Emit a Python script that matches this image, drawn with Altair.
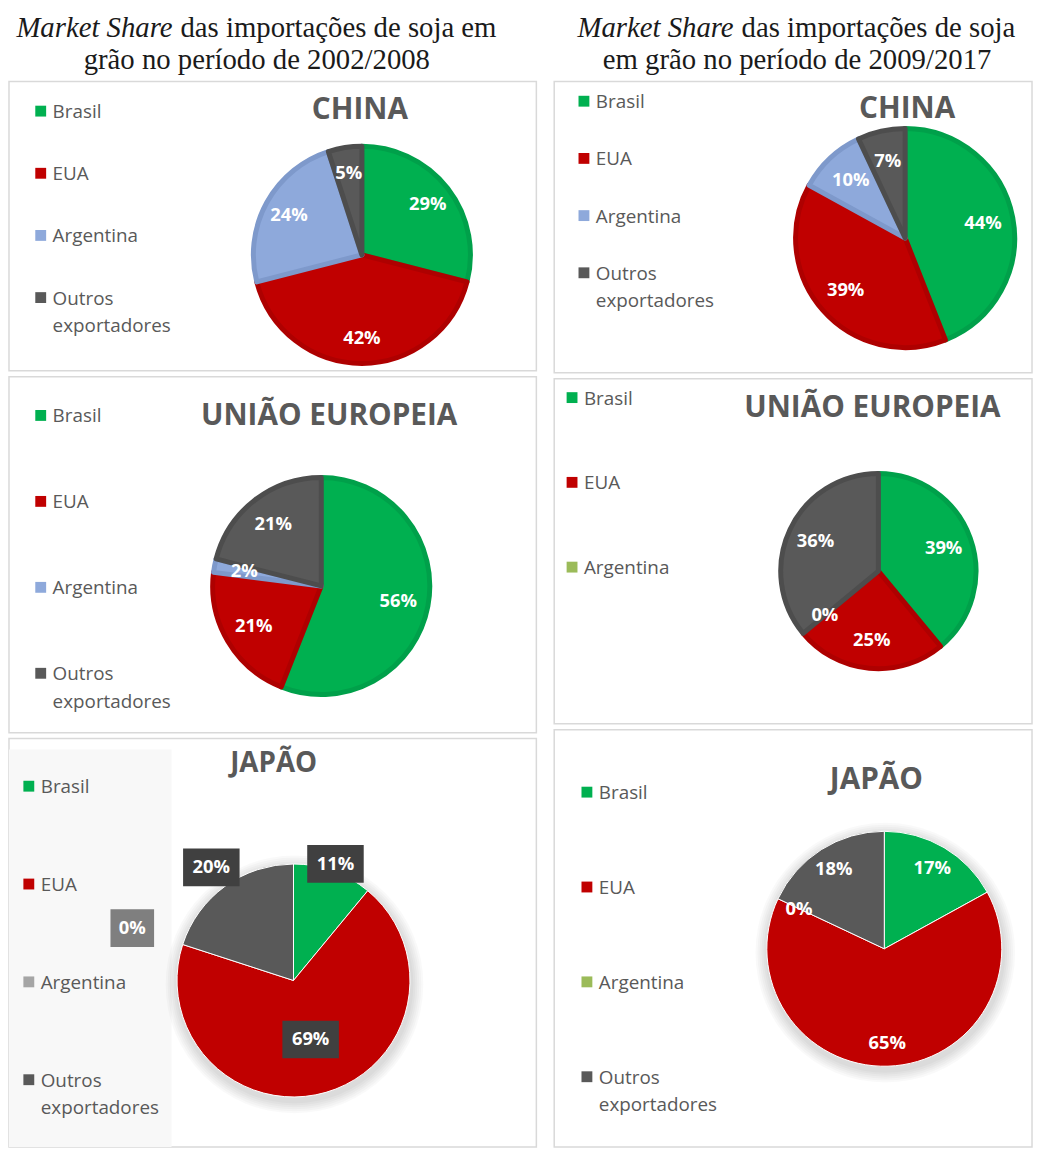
import altair as alt
import pandas as pd

# ---------------- data ----------------
cats = ["Brasil", "EUA", "Argentina", "Outros exportadores"]
china_2002_2008 = [29, 42, 24, 5]
china_2009_2017 = [44, 39, 10, 7]
ue_2002_2008 = [56, 21, 2, 21]
ue_2009_2017 = [39, 25, 0, 36]
japao_2002_2008 = [11, 69, 0, 20]
japao_2009_2017 = [17, 65, 0, 18]

header_left = ["Market Share", "das importações de soja em", "grão no período de 2002/2008"]
header_right = ["Market Share", "das importações de soja", "em grão no período de 2009/2017"]
panel_titles = ["CHINA", "UNIÃO EUROPEIA", "JAPÃO"]

# ---------------- styles ----------------
GREEN, RED, BLUE, OLIVE, LGRAY, DGRAY = "#00B050", "#C00000", "#8EA9DB", "#9BBB59", "#A5A5A5", "#595959"
DARK_BLUE = ["#00A04A", "#AE0000", "#7E99CB", "#4D4D4D"]
DARK_OLIVE = ["#00A04A", "#AE0000", "#8AAA4A", "#4D4D4D"]
TEXT = "#595959"
FONT = "Open Sans"
HDR_H = 62


def make_df(values):
    return pd.DataFrame({
        "cat": cats,
        "value": values,
        "order": list(range(len(cats))),
        "label": [f"{v}%" for v in values],
    })


def panel(values, title, w, h, cx, cy, r, colors, strokes, stroke_w, label_r,
          title_x, title_y, title_size, leg_x, leg_y0, leg_step, n_leg=4,
          callout=False, legend_bg=False, shadow=False):
    df = make_df(values)
    base = alt.Chart(df)
    cscale = alt.Scale(domain=cats, range=colors)
    layers = []
    one = pd.DataFrame({"a": [0]})
    if legend_bg:
        layers.append(
            alt.Chart(one).mark_rect(color="#F8F8F8").encode(
                x=alt.value(0), x2=alt.value(164), y=alt.value(11), y2=alt.value(h)
            )
        )
    if shadow:
        for k in range(1, 7):
            layers.append(
                alt.Chart(one).mark_arc(
                    theta=0, theta2=6.2832, outerRadius=r + 2 * k, color="#000000", opacity=0.022
                ).encode(x=alt.value(cx + 1), y=alt.value(cy + 4))
            )
    arc = base.transform_filter("datum.value > 0").mark_arc(
        outerRadius=r - stroke_w / 2, strokeWidth=stroke_w, strokeJoin="round"
    ).encode(
        theta=alt.Theta("value:Q", stack=True),
        order=alt.Order("order:Q"),
        color=alt.Color("cat:N", scale=cscale, legend=None),
        stroke=alt.Stroke("cat:N", scale=alt.Scale(domain=cats, range=strokes), legend=None),
        x=alt.value(cx), y=alt.value(cy),
    )
    layers.append(arc)

    lab = base.transform_window(
        cum="sum(value)", sort=[alt.SortField("order")]
    ).transform_joinaggregate(total="sum(value)").transform_calculate(
        mid="(datum.cum - datum.value / 2) / datum.total * 2 * PI"
    ).transform_calculate(lr=label_r).transform_calculate(
        lx=f"{cx} + datum.lr * sin(datum.mid)",
        ly=f"{cy} - datum.lr * cos(datum.mid)",
    )
    if callout:
        box = lab.transform_calculate(
            bw="length(datum.label) * 13 + 18",
            fillc="datum.cat == 'Argentina' ? '#7F7F7F' : '#404040'",
        ).transform_calculate(
            bx1="datum.lx - datum.bw / 2", bx2="datum.lx + datum.bw / 2",
            by1="datum.ly - 19", by2="datum.ly + 19",
        ).mark_rect().encode(
            x=alt.X("bx1:Q", scale=None, axis=None), x2="bx2:Q",
            y=alt.Y("by1:Q", scale=None, axis=None), y2="by2:Q",
            fill=alt.Fill("fillc:N", scale=None, legend=None),
        )
        layers.append(box)
    layers.append(
        lab.mark_text(font=FONT, fontWeight="bold", fontSize=18.5, color="white",
                      align="center", baseline="middle").encode(
            x=alt.X("lx:Q", scale=None, axis=None),
            y=alt.Y("ly:Q", scale=None, axis=None),
            text="label:N",
        )
    )

    leg = base.transform_filter(f"datum.order < {n_leg}").transform_calculate(
        legy=f"{leg_y0} + datum.order * {leg_step}"
    )
    layers.append(
        leg.mark_square(size=120, opacity=1).encode(
            x=alt.value(leg_x), y=alt.Y("legy:Q", scale=None, axis=None),
            color=alt.Color("cat:N", scale=cscale, legend=None),
        )
    )
    layers.append(
        leg.mark_text(align="left", baseline="alphabetic", dy=7, font=FONT, fontSize=19,
                      color=TEXT, lineBreak=" ", lineHeight=28).encode(
            x=alt.value(leg_x + 12), y=alt.Y("legy:Q", scale=None, axis=None), text="cat:N"
        )
    )
    layers.append(
        alt.Chart(pd.DataFrame({"t": [title]})).mark_text(
            font=FONT, fontWeight="bold", fontSize=title_size, color=TEXT,
            align="center", baseline="alphabetic"
        ).encode(text="t:N", x=alt.value(title_x), y=alt.value(title_y))
    )
    return alt.layer(*layers).properties(width=w, height=h)


def header(pieces, w, split_x, line2_x):
    serif = "Liberation Serif"
    a = alt.Chart(pd.DataFrame({"t": [pieces[0]]})).mark_text(
        font=serif, fontStyle="italic", fontSize=29, align="right", baseline="alphabetic", color="#1A1A1A"
    ).encode(text="t:N", x=alt.value(split_x), y=alt.value(23))
    b = alt.Chart(pd.DataFrame({"t": [pieces[1]]})).mark_text(
        font=serif, fontSize=29, align="left", baseline="alphabetic", color="#1A1A1A"
    ).encode(text="t:N", x=alt.value(split_x + 8), y=alt.value(23))
    c = alt.Chart(pd.DataFrame({"t": [pieces[2]]})).mark_text(
        font=serif, fontSize=29, align="center", baseline="alphabetic", color="#1A1A1A"
    ).encode(text="t:N", x=alt.value(line2_x), y=alt.value(56))
    return alt.layer(a, b, c).properties(
        width=w, height=HDR_H, view=alt.ViewBackground(stroke="transparent")
    )


LW, RW = 532, 482
left_colors = [GREEN, RED, BLUE, DGRAY]
right_colors = [GREEN, RED, OLIVE, DGRAY]
jl_colors = [GREEN, RED, LGRAY, DGRAY]
white_strokes = ["white"] * 4

p1l = panel(china_2002_2008, panel_titles[0], LW, 292, 356, 175, 112, left_colors, DARK_BLUE, 5,
            "84", 354, 38, 30, 32, 30, 62.7)
p2l = panel(ue_2002_2008, panel_titles[1], LW, 359, 315, 211, 112, left_colors, DARK_BLUE, 5,
            "79", 323, 49, 30, 32, 39, 86.7)
p3l = panel(japao_2002_2008, panel_titles[2], LW, 412, 287, 244, 118, jl_colors, white_strokes, 1,
            "[125, 62, 171, 141][datum.order]", 267, 34, 28, 20, 48, 98.7,
            callout=True, legend_bg=True, shadow=True)

p1r = panel(china_2009_2017, panel_titles[0], RW, 294, 354, 158, 113, left_colors, DARK_BLUE, 5,
            "80", 356, 37, 30, 30, 20, 57.7)
p2r = panel(ue_2009_2017, panel_titles[1], RW, 348, 327, 194, 101, right_colors, DARK_OLIVE, 5,
            "70", 321, 39, 30, 18, 19, 85.5, n_leg=3)
p3r = panel(japao_2009_2017, panel_titles[2], RW, 421, 333, 221, 119, right_colors, white_strokes, 1,
            "95", 325, 60, 30, 33, 63, 95.7, shadow=True)

hl = header(header_left, LW, 165, 250)
hr = header(header_right, RW, 181, 245)

res = dict(color="independent", stroke="independent", fill="independent")
left = alt.vconcat(hl, p1l, p2l, p3l, spacing=4).resolve_scale(**res)
right = alt.vconcat(hr, p1r, p2r, p3r, spacing=4).resolve_scale(**res)

chart = alt.hconcat(left, right, spacing=16).resolve_scale(**res).properties(
    padding=0, background="white"
).configure_view(stroke="#D9D9D9", strokeWidth=1.5)

chart.save("out.html", embed_options={"renderer": "svg", "actions": False})
